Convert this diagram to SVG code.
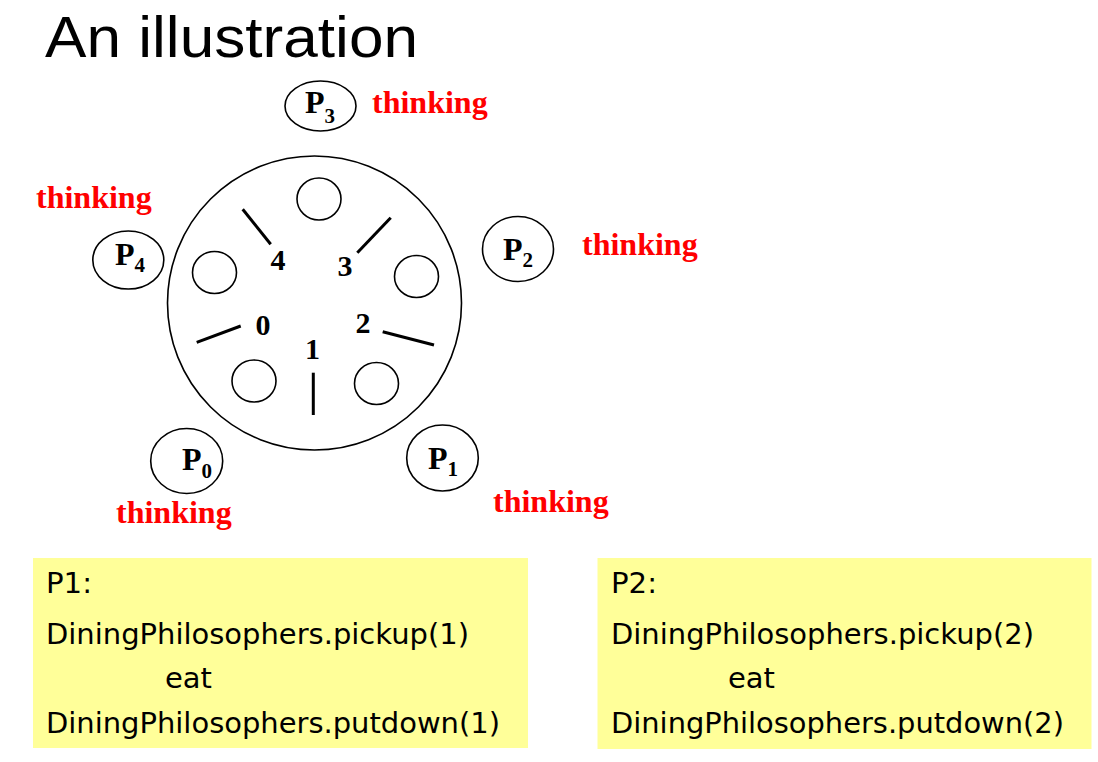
<svg xmlns="http://www.w3.org/2000/svg" width="1098" height="762" viewBox="0 0 1098 762">
<style>
.title{font-family:"Liberation Sans",Arial,sans-serif;font-size:57px;fill:#000}
.outline{fill:none;stroke:#000;stroke-width:1.6}
.plate{fill:#fff;stroke:#000;stroke-width:1.6}
.stick{stroke:#000;stroke-width:3;stroke-linecap:butt}
.num{font-family:"Liberation Serif","Times New Roman",serif;font-weight:bold;font-size:30px;fill:#000;text-anchor:middle}
.pl{font-family:"Liberation Serif","Times New Roman",serif;font-weight:bold;font-size:32px;fill:#000}
.sub{font-size:21px}
.think{font-family:"Liberation Serif","Times New Roman",serif;font-weight:bold;font-size:32px;fill:#ff0000}
.box{fill:#ffff99}
.code{font-family:"DejaVu Sans","Liberation Sans",sans-serif;font-size:29px;fill:#000}
</style>
<rect width="1098" height="762" fill="#fff"/>
<text class="title" x="45" y="57" textLength="373" lengthAdjust="spacingAndGlyphs">An illustration</text>

<g id="table">
<circle class="outline" cx="314.5" cy="303" r="147"/>
<ellipse class="plate" cx="319" cy="199" rx="22" ry="21"/>
<ellipse class="plate" cx="214.5" cy="272.5" rx="22" ry="21"/>
<ellipse class="plate" cx="416.5" cy="276.5" rx="22" ry="21"/>
<ellipse class="plate" cx="254" cy="381" rx="22" ry="21"/>
<ellipse class="plate" cx="376.5" cy="383.5" rx="22" ry="21"/>
</g>

<g id="chopsticks">
<line class="stick" x1="242.7" y1="209.3" x2="270.7" y2="244.3"/>
<line class="stick" x1="390.7" y1="217.7" x2="357.3" y2="252.7"/>
<line class="stick" x1="196.7" y1="342.3" x2="240.7" y2="326"/>
<line class="stick" x1="382.7" y1="331.7" x2="434" y2="345"/>
<line class="stick" x1="313.3" y1="372.7" x2="313.3" y2="415"/>
<text class="num" x="278" y="270">4</text>
<text class="num" x="345" y="276">3</text>
<text class="num" x="263" y="335">0</text>
<text class="num" x="363" y="333">2</text>
<text class="num" x="312.5" y="359">1</text>
</g>

<g id="P3">
<ellipse class="outline" cx="320.5" cy="106" rx="35.5" ry="25"/>
<text class="pl" x="305" y="113">P<tspan class="sub" dy="10">3</tspan></text>
<text class="think" x="372" y="113">thinking</text>
</g>
<g id="P4">
<ellipse class="outline" cx="128.3" cy="260" rx="35.5" ry="29"/>
<text class="pl" x="115" y="265">P<tspan class="sub" dy="7">4</tspan></text>
<text class="think" x="36" y="208">thinking</text>
</g>
<g id="P2">
<ellipse class="outline" cx="518" cy="249" rx="35.5" ry="32.5"/>
<text class="pl" x="503" y="260">P<tspan class="sub" dy="7">2</tspan></text>
<text class="think" x="582" y="255">thinking</text>
</g>
<g id="P0">
<ellipse class="outline" cx="186.7" cy="461" rx="36" ry="32.5"/>
<text class="pl" x="182" y="470">P<tspan class="sub" dy="8">0</tspan></text>
<text class="think" x="116" y="523">thinking</text>
</g>
<g id="P1">
<ellipse class="outline" cx="442.5" cy="458" rx="35.8" ry="33"/>
<text class="pl" x="428" y="469">P<tspan class="sub" dy="7">1</tspan></text>
<text class="think" x="493" y="512">thinking</text>
</g>

<g id="box1">
<rect class="box" x="33" y="558" width="495" height="190"/>
<text class="code" x="46" y="593" textLength="46" lengthAdjust="spacingAndGlyphs">P1:</text>
<text class="code" x="46" y="644" textLength="423" lengthAdjust="spacingAndGlyphs">DiningPhilosophers.pickup(1)</text>
<text class="code" x="165" y="688" textLength="47" lengthAdjust="spacingAndGlyphs">eat</text>
<text class="code" x="46" y="733" textLength="454" lengthAdjust="spacingAndGlyphs">DiningPhilosophers.putdown(1)</text>
</g>
<g id="box2">
<rect class="box" x="597.5" y="558" width="494" height="191"/>
<text class="code" x="611" y="593" textLength="46" lengthAdjust="spacingAndGlyphs">P2:</text>
<text class="code" x="611" y="644" textLength="423" lengthAdjust="spacingAndGlyphs">DiningPhilosophers.pickup(2)</text>
<text class="code" x="728" y="688" textLength="47" lengthAdjust="spacingAndGlyphs">eat</text>
<text class="code" x="611" y="733" textLength="453" lengthAdjust="spacingAndGlyphs">DiningPhilosophers.putdown(2)</text>
</g>
</svg>
